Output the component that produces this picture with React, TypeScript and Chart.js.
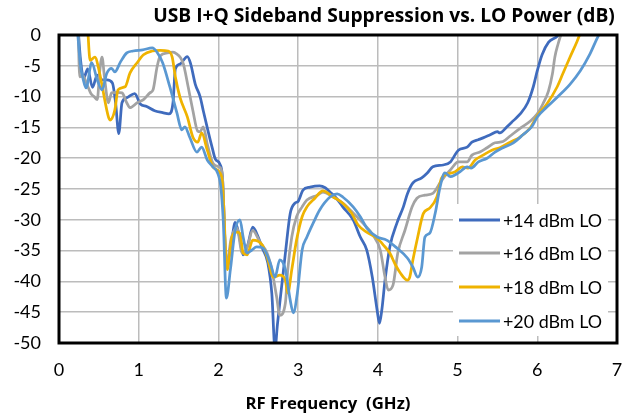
import React, { useEffect, useRef } from "react";
import { Chart, registerables } from "chart.js";

Chart.register(...registerables);

const TITLE = "USB I+Q Sideband Suppression vs. LO Power (dB)";
const X_TITLE = "RF Frequency  (GHz)";
const SERIES_NAMES = ["+14 dBm LO", "+16 dBm LO", "+18 dBm LO", "+20 dBm LO"];
const COLORS = ["#3F6BBD", "#A3A3A3", "#EFB300", "#5A98D2"];

const X_TICKS = [0, 1, 2, 3, 4, 5, 6, 7];
const Y_TICKS = [0, -5, -10, -15, -20, -25, -30, -35, -40, -45, -50];

const freq14 = [0.24,0.27,0.31,0.36,0.42,0.48,0.54,0.60,0.67,0.71,0.75,0.79,0.85,0.95,1.02,1.10,1.20,1.30,1.38,1.43,1.46,1.52,1.61,1.65,1.71,1.77,1.81,1.87,1.92,1.96,2.02,2.05,2.10,2.16,2.21,2.26,2.31,2.37,2.43,2.49,2.55,2.62,2.67,2.71,2.74,2.77,2.84,2.90,2.96,3.00,3.06,3.15,3.27,3.34,3.40,3.48,3.56,3.69,3.78,3.86,3.93,3.99,4.02,4.05,4.09,4.15,4.24,4.32,4.37,4.44,4.55,4.62,4.69,4.82,4.91,5.01,5.12,5.18,5.26,5.32,5.41,5.50,5.53,5.62,5.70,5.78,5.88,5.95,6.00,6.06,6.14,6.25,6.32];
const supp14 = [1,-4,-7,-5.5,-8.5,-6.5,-7.3,-7.3,-7.8,-11,-16,-11,-10.2,-9.5,-11.2,-11.6,-12.3,-12.6,-12.8,-11,-5.5,-4.7,-3.5,-4.6,-8,-10,-12.3,-15.6,-18.2,-20.1,-21,-23,-37,-34,-30.4,-32.5,-35.7,-34,-31.2,-32.5,-34.6,-37,-42,-51,-47,-43.5,-35.4,-29,-27.3,-27,-25.2,-24.7,-24.5,-24.8,-25.5,-26.5,-27.9,-30,-32.8,-34.9,-39.3,-44.6,-46.8,-44.6,-39.8,-34.4,-30.5,-27.9,-25.8,-24,-23.2,-22.4,-21.4,-21.1,-20.6,-18.7,-18.2,-17.4,-17,-16.7,-16.2,-15.7,-15.9,-14.9,-13.9,-12.9,-11,-8.4,-5.8,-3.2,-1.2,-0.2,1];

const freq16 = [0.24,0.26,0.30,0.35,0.40,0.44,0.48,0.51,0.54,0.57,0.62,0.66,0.72,0.79,0.85,0.89,0.98,1.06,1.14,1.18,1.23,1.27,1.36,1.43,1.48,1.52,1.56,1.62,1.68,1.74,1.77,1.81,1.86,1.92,1.96,2.02,2.05,2.10,2.16,2.23,2.30,2.36,2.43,2.52,2.61,2.67,2.73,2.77,2.84,2.87,2.92,2.98,3.05,3.11,3.24,3.31,3.44,3.56,3.69,3.81,3.94,4.03,4.09,4.13,4.19,4.25,4.34,4.43,4.49,4.59,4.69,4.78,4.84,4.91,5.01,5.12,5.18,5.28,5.37,5.47,5.57,5.66,5.78,5.91,6.00,6.07,6.14,6.19,6.22,6.26,6.32];
const supp16 = [1,-6.8,-6.6,-8,-9.5,-10,-10.5,-6,-3.6,-6.8,-11,-9.4,-9.3,-9.4,-11,-11.8,-11,-10.5,-9.4,-8.9,-5.2,-3.4,-2.9,-2.8,-3.1,-3.6,-4.7,-8.4,-12.3,-15.6,-15.7,-14.9,-17.7,-20.5,-21.2,-21.5,-23,-37.5,-33,-31.3,-35.4,-34.5,-31.7,-33.6,-35.4,-38.1,-42.5,-45.5,-43.5,-38.1,-32.8,-29.5,-27.9,-26.8,-26,-25.5,-26.3,-27.3,-28.9,-30.5,-32.5,-34.9,-39.3,-41.4,-40.6,-35.4,-31.7,-27.9,-26.5,-26,-25.7,-24,-22.9,-21.9,-20.6,-20.6,-19.5,-19,-18.3,-17.5,-17.3,-16.4,-15.2,-14,-12.8,-11.2,-9.1,-6.3,-3.6,-1.5,1];

const freq18 = [0.36,0.39,0.45,0.51,0.55,0.62,0.64,0.70,0.74,0.83,0.89,0.98,1.06,1.17,1.27,1.37,1.42,1.46,1.52,1.61,1.68,1.74,1.79,1.86,1.93,2.02,2.05,2.11,2.17,2.23,2.27,2.31,2.36,2.43,2.55,2.61,2.69,2.77,2.84,2.87,2.92,2.98,3.05,3.11,3.21,3.31,3.44,3.56,3.67,3.75,3.86,3.99,4.07,4.15,4.22,4.28,4.37,4.40,4.44,4.50,4.57,4.65,4.74,4.80,4.87,4.97,5.06,5.13,5.22,5.32,5.43,5.53,5.66,5.78,5.91,6.00,6.12,6.25,6.32,6.41,6.50,6.56];
const supp18 = [1,-4.1,-3.6,-6.2,-8.9,-13.3,-13.8,-12.2,-8.9,-8.4,-6.2,-4.5,-3.2,-2.6,-2.5,-2.6,-3.6,-6.8,-10.2,-13.3,-16.6,-17.4,-15.9,-18.7,-21.4,-22.4,-24,-38.1,-32.8,-32,-32.2,-35.4,-35.7,-33.3,-34.1,-36,-39.3,-39,-39.8,-41.9,-38.1,-33.3,-29.5,-27.9,-26.5,-25.3,-26.3,-27.3,-28.9,-30.8,-32,-33,-34.1,-35.4,-37.3,-38.6,-39.8,-39.3,-36.5,-32.8,-29,-28.1,-26.3,-23.2,-22.6,-22.2,-21.4,-21.6,-20.3,-19.5,-18.7,-18.3,-17.4,-16.6,-15.1,-13.1,-11.2,-8.4,-6.3,-3.6,-1,1];

const freq20 = [0.23,0.27,0.30,0.34,0.41,0.48,0.54,0.60,0.66,0.70,0.77,0.85,0.93,1.05,1.17,1.23,1.30,1.39,1.48,1.54,1.58,1.64,1.73,1.79,1.86,1.93,1.99,2.03,2.06,2.10,2.15,2.21,2.27,2.31,2.36,2.42,2.48,2.56,2.65,2.71,2.77,2.84,2.90,2.94,2.99,3.05,3.11,3.19,3.27,3.40,3.49,3.56,3.69,3.78,3.86,3.99,4.11,4.24,4.37,4.44,4.50,4.55,4.59,4.65,4.72,4.78,4.84,4.91,4.97,5.03,5.12,5.17,5.26,5.37,5.47,5.57,5.70,5.82,5.93,6.00,6.12,6.25,6.41,6.54,6.66,6.76,6.82];
const supp20 = [1,-5,-7,-8.6,-4.5,-7.3,-8.9,-6.2,-5.4,-6,-4.4,-2.9,-2.6,-2.4,-2.1,-2.8,-4.5,-8.4,-12.7,-15.4,-14.9,-16.6,-19,-18.2,-20.3,-21.4,-22.4,-24.7,-30,-42.7,-38.1,-31.7,-30,-32.8,-35.4,-34.9,-34.4,-34.6,-37,-39.3,-36.5,-38.1,-43,-45.1,-41.9,-34.9,-32.8,-30.5,-28.4,-26.3,-25.8,-26.3,-27.9,-29.5,-31.3,-32.8,-33.3,-34.6,-36.2,-37.7,-39.3,-37.7,-32.8,-32.2,-28.9,-24.7,-22.4,-23,-22.7,-22.2,-21.4,-21.6,-20.6,-20,-19,-18.3,-17.5,-16.2,-14.9,-13.3,-11.7,-10.1,-8,-5.8,-3.1,-0.3,1];

const FREQS = [freq14, freq16, freq18, freq20];
const SUPPS = [supp14, supp16, supp18, supp20];

const FONT = "Lato, 'Open Sans', sans-serif";
const TFONT = "'Open Sans', Lato, sans-serif";

function fitFont(ctx: CanvasRenderingContext2D, text: string, weight: string, family: string, target: number) {
  ctx.font = `${weight} 20px ${family}`;
  const w = ctx.measureText(text).width;
  const size = (20 * target) / w;
  return `${weight} ${size.toFixed(2)}px ${family}`;
}

const decorPlugin = {
  id: "decor",
  afterDatasetsDraw(chart: any) {
    const { ctx, chartArea } = chart;
    const { left, right, top, bottom } = chartArea;
    ctx.save();
    // frame
    ctx.strokeStyle = "#000";
    ctx.lineWidth = 3;
    ctx.strokeRect(left, top, right - left, bottom - top);

    // legend
    const lx = 453, ly = 204, lw = 155, lh = 132;
    ctx.fillStyle = "#fff";
    ctx.fillRect(lx, ly, lw, lh);
    ctx.textBaseline = "middle";
    ctx.textAlign = "left";
    const rows = [220, 253, 287, 321];
    SERIES_NAMES.forEach((name, i) => {
      ctx.strokeStyle = COLORS[i];
      ctx.lineWidth = 3;
      ctx.beginPath();
      ctx.moveTo(459, rows[i]);
      ctx.lineTo(500, rows[i]);
      ctx.stroke();
      ctx.fillStyle = "#000";
      ctx.font = fitFont(ctx, SERIES_NAMES[0], "normal", FONT, 99);
      ctx.fillText(name, 503, rows[i] + 1);
    });

    // titles
    ctx.fillStyle = "#000";
    ctx.textAlign = "center";
    ctx.font = fitFont(ctx, TITLE, "bold", TFONT, 462);
    ctx.fillText(TITLE, 384, 17);
    ctx.font = fitFont(ctx, X_TITLE, "bold", TFONT, 165);
    ctx.fillText(X_TITLE, 328, 404);
    ctx.restore();
  },
};

export default function App() {
  const ref = useRef<HTMLCanvasElement | null>(null);
  useEffect(() => {
    if (!ref.current) return;
    const datasets = FREQS.map((xs, i) => ({
      label: SERIES_NAMES[i],
      data: xs.map((x, j) => ({ x, y: SUPPS[i][j] })),
      borderColor: COLORS[i],
      backgroundColor: COLORS[i],
      borderWidth: 2.75,
      pointRadius: 0,
      fill: false,
      cubicInterpolationMode: "monotone" as const,
      order: 4 - i,
    }));
    const chart = new Chart(ref.current, {
      type: "line",
      data: { datasets },
      options: {
        animation: false,
        responsive: false,
        layout: { padding: { top: 35, right: 14, left: 0, bottom: 0 } },
        plugins: {
          legend: { display: false },
          title: { display: false },
          tooltip: { enabled: false },
        },
        scales: {
          x: {
            type: "linear",
            min: 0,
            max: 7,
            afterFit: (s: any) => { s.height = 75; s.paddingLeft = 0; s.paddingRight = 0; },
            afterBuildTicks: (s: any) => { s.ticks = X_TICKS.map((v) => ({ value: v })); },
            ticks: { color: "#000", font: { family: FONT, size: 18 }, padding: 16 },
            grid: { color: "#BCBCBC", lineWidth: 1.5, drawTicks: false },
            border: { display: false },
          },
          y: {
            type: "linear",
            min: -50,
            max: 0,
            afterFit: (s: any) => { s.width = 59; s.paddingTop = 0; s.paddingBottom = 0; },
            afterBuildTicks: (s: any) => { s.ticks = Y_TICKS.map((v) => ({ value: v })); },
            ticks: { color: "#000", font: { family: FONT, size: 18 }, padding: 18 },
            grid: { color: "#BCBCBC", lineWidth: 1.5, drawTicks: false },
            border: { display: false },
          },
        },
      },
      plugins: [decorPlugin],
    });
    return () => chart.destroy();
  }, []);
  return (
    <div style={{ position: "fixed", left: 0, top: 0, width: 631, height: 418, background: "#fff" }}>
      <canvas ref={ref} width={631} height={418} />
    </div>
  );
}
